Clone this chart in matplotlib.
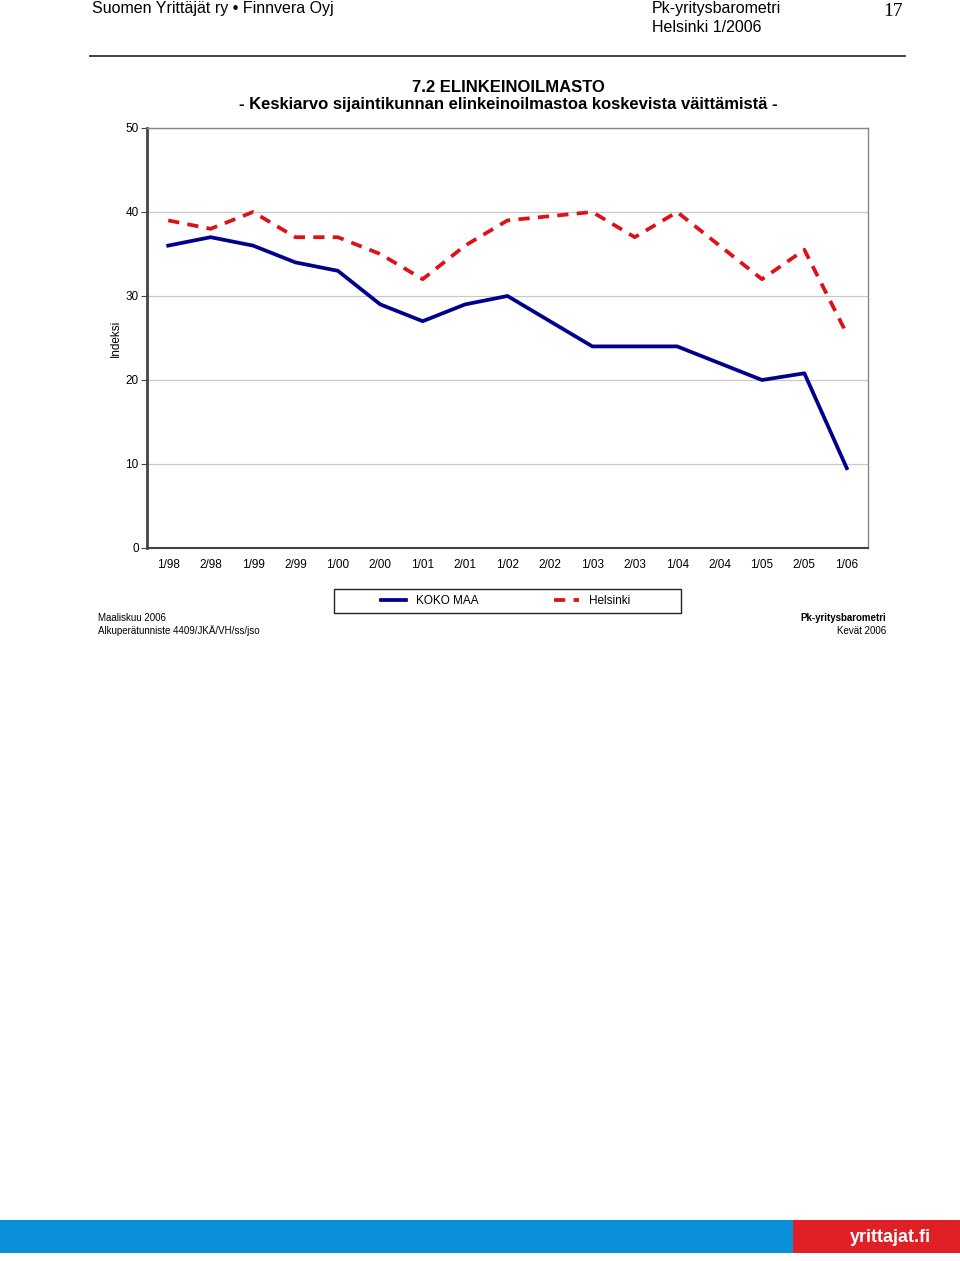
import numpy as np
import matplotlib
matplotlib.use("Agg")
import matplotlib.pyplot as plt
from matplotlib.patches import Rectangle
from matplotlib.lines import Line2D

plt.rcParams['font.family'] = ['Liberation Sans', 'DejaVu Sans']

#####################################################################
# data
periods = ["1/98", "2/98", "1/99", "2/99", "1/00", "2/00", "1/01", "2/01", "1/02",
           "2/02", "1/03", "2/03", "1/04", "2/04", "1/05", "2/05", "1/06"]
koko_maa = [36, 37, 36, 34, 33, 29, 27, 29, 30, 27, 24, 24, 24, 22, 20, 20.8, 9.5]
helsinki = [39, 38, 40, 37, 37, 35, 32, 36, 39, 39.5, 40, 37, 40, 36, 32, 35.5, 25.5]
y_ticks = [0, 10, 20, 30, 40, 50]

W, H = 960, 1261
fig = plt.figure(figsize=(W / 100, H / 100), dpi=100)

def fx(px):
    return px / W

def fy(py):
    return 1 - py / H

#####################################################################
# page header
fig.text(fx(92), fy(9), "Suomen Yrittäjät ry • Finnvera Oyj", fontsize=11.5, va="center")
fig.text(fx(652), fy(9), "Pk-yritysbarometri", fontsize=11.5, va="center")
fig.text(fx(652), fy(27), "Helsinki 1/2006", fontsize=11.5, va="center")
fig.text(fx(903), fy(11), "17", fontsize=14, va="center", ha="right", family="Liberation Serif")
fig.add_artist(Line2D([fx(90), fx(905)], [fy(56), fy(56)], color="#333333", lw=1.3))

fig.text(fx(508), fy(87), "7.2 ELINKEINOILMASTO", fontsize=12, fontweight="bold",
         ha="center", va="center")
fig.text(fx(508), fy(105), "- Keskiarvo sijaintikunnan elinkeinoilmastoa koskevista väittämistä -",
         fontsize=12, fontweight="bold", ha="center", va="center")

#####################################################################
# chart
ax = fig.add_axes([fx(147), fy(548), fx(868) - fx(147), fy(128) - fy(548)])
x = np.arange(len(periods))
ax.plot(x, koko_maa, color="#00008c", lw=2.7, solid_joinstyle="round", label="KOKO MAA")
ax.plot(x, helsinki, color="#dd1118", lw=2.7, dashes=(3.0, 2.2), label="Helsinki")

ax.set_xlim(-0.5, len(periods) - 0.5)
ax.set_ylim(0, 50)
ax.set_yticks(y_ticks)
ax.set_xticks(x)
ax.set_xticklabels(periods)
ax.tick_params(axis="x", length=0, pad=8, labelsize=8.5)
ax.tick_params(axis="y", length=4, width=0.8, color="#444444", labelsize=8.5, pad=2)
ax.yaxis.grid(True, color="#c8c8c8", lw=0.9)
ax.set_axisbelow(True)
for side in ["top", "right"]:
    ax.spines[side].set_color("#888888")
    ax.spines[side].set_linewidth(1.0)
ax.spines["left"].set_color("#444444")
ax.spines["left"].set_linewidth(2.0)
ax.spines["bottom"].set_color("#444444")
ax.spines["bottom"].set_linewidth(1.5)
ax.set_ylabel("Indeksi", fontsize=8.5)
ax.yaxis.set_label_coords(-0.035, 0.5)

# legend: frame drawn by hand so the box can be wider than the entries
fig.add_artist(Rectangle((fx(334), fy(613)), fx(681) - fx(334), fy(589) - fy(613),
                         transform=fig.transFigure, fill=False, edgecolor="#222222", lw=1.0))
leg = fig.legend(loc="center", bbox_to_anchor=(fx(506), fy(601)), ncol=2,
                 frameon=False, fontsize=8.5, handlelength=2.1,
                 columnspacing=6.4, borderpad=0.2, handletextpad=0.85)

#####################################################################
# footnotes
fig.text(fx(98), fy(618), "Maaliskuu 2006", fontsize=7, va="center")
fig.text(fx(98), fy(631), "Alkuperätunniste 4409/JKÄ/VH/ss/jso", fontsize=7, va="center")
fig.text(fx(886), fy(618), "Pk-yritysbarometri", fontsize=7, fontweight="bold", ha="right", va="center")
fig.text(fx(886), fy(631), "Kevät 2006", fontsize=7, ha="right", va="center")

#####################################################################
# footer bar
fig.add_artist(Rectangle((0, fy(1253)), fx(793), fy(1220) - fy(1253),
                         transform=fig.transFigure, color="#0a90d8", lw=0))
fig.add_artist(Rectangle((fx(793), fy(1253)), 1 - fx(793), fy(1220) - fy(1253),
                         transform=fig.transFigure, color="#e01f26", lw=0))
fig.text(fx(890), fy(1237), "yrittajat.fi", fontsize=13, fontweight="bold", color="white",
         ha="center", va="center")

fig.savefig("out.png", dpi=100)
